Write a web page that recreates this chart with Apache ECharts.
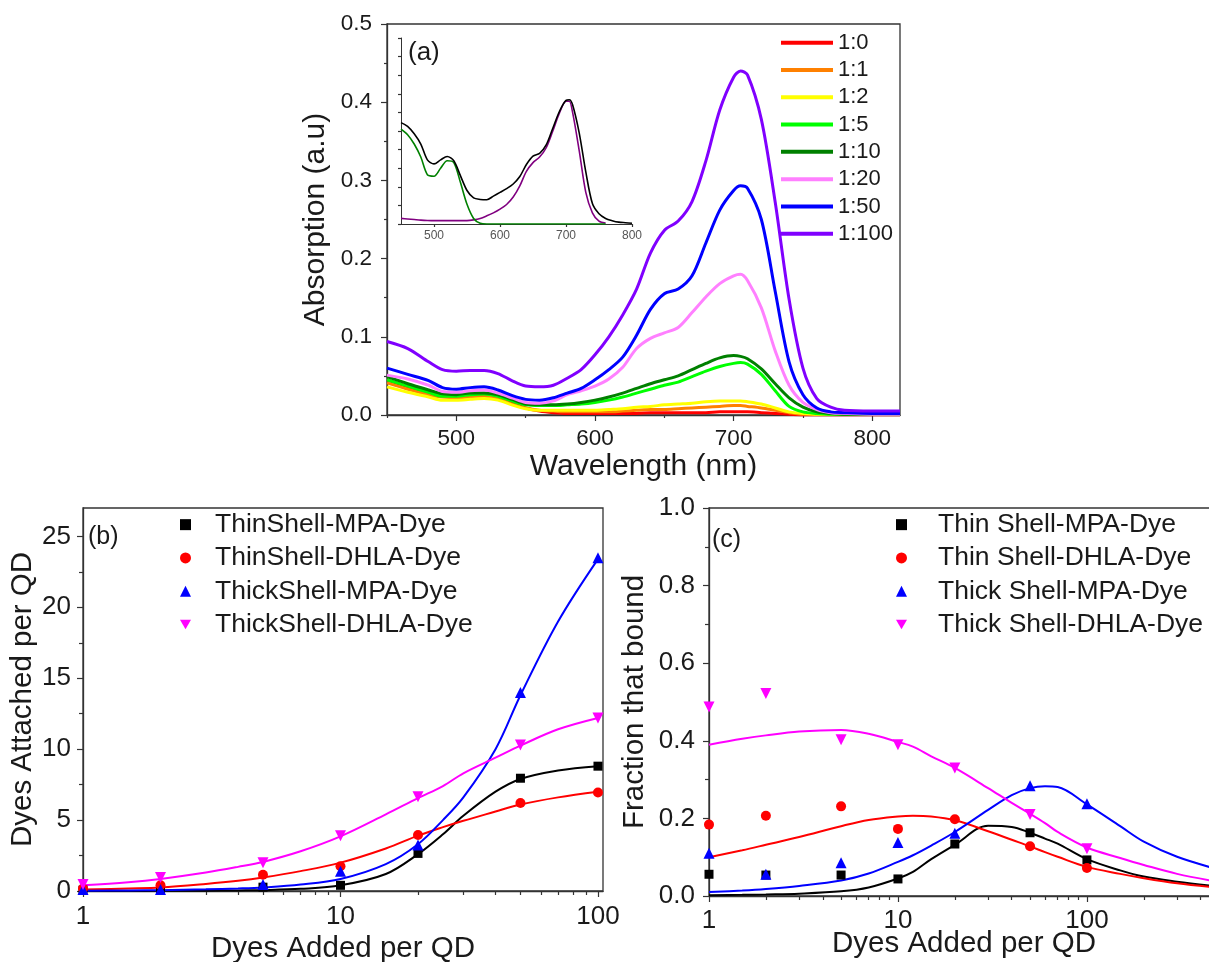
<!DOCTYPE html>
<html><head><meta charset="utf-8">
<script src="https://cdn.jsdelivr.net/npm/echarts@6/dist/echarts.min.js"></script>
<style>html,body{margin:0;padding:0;background:#fff}#c{width:1209px;height:962px}</style>
</head><body><div id="c"></div>
<script>
// ---------- Panel (a): absorption spectra ----------
const wl = [450,465,480,490,500,510,520,530,540,550,560,570,580,590,600,610,620,630,640,650,660,670,680,690,700,705,710,720,730,740,750,760,770,780,800,820];
const abs_1_0 = [0.045,0.036,0.028,0.025,0.024,0.025,0.026,0.022,0.015,0.009,0.005,0.003,0.002,0.002,0.002,0.002,0.002,0.002,0.003,0.003,0.003,0.003,0.003,0.004,0.004,0.004,0.004,0.003,0.002,0.001,0.000,0.000,0.000,0.000,0.000,0.000];
const abs_1_1 = [0.041,0.033,0.026,0.023,0.022,0.023,0.024,0.021,0.014,0.009,0.006,0.005,0.004,0.004,0.004,0.004,0.005,0.006,0.007,0.007,0.008,0.009,0.010,0.011,0.012,0.012,0.011,0.009,0.006,0.003,0.001,0.001,0.001,0.001,0.001,0.001];
const abs_1_2 = [0.036,0.029,0.023,0.019,0.019,0.020,0.021,0.019,0.013,0.008,0.006,0.006,0.006,0.006,0.006,0.007,0.008,0.010,0.011,0.013,0.014,0.015,0.017,0.018,0.018,0.018,0.017,0.014,0.009,0.004,0.002,0.001,0.001,0.001,0.001,0.001];
const abs_1_5 = [0.045,0.037,0.029,0.024,0.024,0.026,0.027,0.024,0.018,0.013,0.012,0.012,0.013,0.014,0.016,0.019,0.023,0.028,0.033,0.038,0.042,0.049,0.056,0.062,0.066,0.067,0.065,0.052,0.031,0.011,0.004,0.002,0.001,0.001,0.001,0.001];
const abs_1_10 = [0.049,0.040,0.032,0.027,0.026,0.028,0.028,0.026,0.020,0.014,0.013,0.013,0.014,0.016,0.019,0.023,0.028,0.034,0.040,0.045,0.050,0.058,0.066,0.073,0.076,0.075,0.072,0.059,0.040,0.022,0.010,0.004,0.002,0.001,0.001,0.001];
const abs_1_20 = [0.051,0.046,0.038,0.030,0.029,0.031,0.032,0.028,0.022,0.016,0.015,0.018,0.026,0.031,0.037,0.046,0.061,0.085,0.098,0.105,0.112,0.131,0.151,0.168,0.178,0.180,0.172,0.137,0.082,0.038,0.016,0.007,0.003,0.002,0.001,0.001];
const abs_1_50 = [0.060,0.052,0.044,0.035,0.033,0.035,0.036,0.032,0.025,0.020,0.019,0.022,0.028,0.034,0.045,0.058,0.074,0.102,0.135,0.155,0.161,0.178,0.220,0.262,0.287,0.293,0.290,0.250,0.158,0.068,0.026,0.009,0.004,0.003,0.002,0.002];
const abs_1_100 = [0.094,0.085,0.068,0.058,0.056,0.057,0.057,0.053,0.044,0.037,0.036,0.038,0.047,0.058,0.077,0.100,0.128,0.161,0.207,0.236,0.248,0.273,0.325,0.390,0.432,0.440,0.435,0.378,0.272,0.148,0.060,0.021,0.010,0.006,0.005,0.005];
const ratioNames = ['1:0','1:1','1:2','1:5','1:10','1:20','1:50','1:100'];
const ratioColors = ['#ff0000','#ff8000','#ffff00','#00ff00','#008000','#ff80ff','#0000ff','#8000ff'];
const ratioData = [abs_1_0,abs_1_1,abs_1_2,abs_1_5,abs_1_10,abs_1_20,abs_1_50,abs_1_100];
const aXLabels = [500,600,700,800];
const aXMinor = [450,550,650,750];
const aYLabels = [0,0.1,0.2,0.3,0.4,0.5];
const aYMinor = [0.05,0.15,0.25,0.35,0.45];

// inset (normalised)
const insWl = [450,460,470,480,490,500,510,520,530,540,550,560,570,580,590,600,610,620,630,640,650,660,670,680,690,700,705,710,720,730,740,750,760,770,780,790,800];
const insQDDye = [0.545,0.525,0.485,0.43,0.345,0.323,0.345,0.363,0.34,0.26,0.18,0.14,0.132,0.13,0.15,0.17,0.19,0.215,0.255,0.32,0.365,0.38,0.425,0.515,0.605,0.665,0.668,0.641,0.49,0.28,0.11,0.055,0.03,0.018,0.01,0.007,0.004];
const insQD = [0.51,0.48,0.43,0.36,0.265,0.257,0.30,0.34,0.33,0.224,0.106,0.03,0.004,0,0,0,0,0,0,0,0,0,0,0,0,0,0,0,0,0,0,0,0,null,null,null,null];
const insDye = [0.03,0.027,0.024,0.021,0.019,0.018,0.018,0.018,0.018,0.018,0.018,0.022,0.03,0.044,0.06,0.08,0.105,0.145,0.205,0.283,0.33,0.36,0.41,0.5,0.596,0.66,0.66,0.6,0.395,0.17,0.06,0.015,0.005,null,null,null,null];
const insXLabels = [500,600,700,800];
const insYTicks = [0,0.1,0.2,0.3,0.4,0.5,0.6,0.7,0.8,0.9,1.0];

// ---------- Panel (b): dyes attached per QD ----------
const added = [1,2,5,10,20,50,100];
const bThinMPA = [0.06,0.11,0.27,0.4,2.65,7.95,8.8];
const bThinDHLA = [0.18,0.4,1.15,1.75,3.95,6.2,6.95];
const bThickMPA = [0.11,0.11,0.45,1.4,3.25,14.0,23.5];
const bThickDHLA = [0.45,0.95,2.0,3.9,6.65,10.3,12.2];
const bFitX = [1,1.5,2,3,4,5,7,10,15,20,25,30,40,50,70,100];
const bFitThinMPA = [0.0,0.0,0.01,0.02,0.04,0.06,0.15,0.4,1.2,2.6,4.0,5.3,7.0,7.9,8.5,8.8];
const bFitThinDHLA = [0.1,0.18,0.25,0.5,0.72,0.95,1.4,2.0,3.0,3.9,4.5,4.95,5.6,6.1,6.6,7.0];
const bFitThickMPA = [0.02,0.04,0.06,0.12,0.18,0.25,0.45,0.85,1.9,3.3,5.0,6.6,10.0,13.8,19.0,23.4];
const bFitThickDHLA = [0.4,0.62,0.85,1.3,1.7,2.05,2.8,3.85,5.4,6.55,7.4,8.3,9.4,10.25,11.4,12.2];
const bNames = ['ThinShell-MPA-Dye','ThinShell-DHLA-Dye','ThickShell-MPA-Dye','ThickShell-DHLA-Dye'];
const bYLabels = [0,5,10,15,20,25];
const bYMinor = [2.5,7.5,12.5,17.5,22.5];
const logLabels = [1,10,100];
const bXMinor = [2,3,4,5,6,7,8,9,20,30,40,50,60,70,80,90];

// ---------- Panel (c): fraction that bound ----------
const cThinMPA = [0.056,0.054,0.054,0.044,0.134,0.163,0.093];
const cThinDHLA = [0.184,0.207,0.231,0.173,0.198,0.128,0.072];
const cThickMPA = [0.11,0.056,0.086,0.138,0.162,0.284,0.238];
const cThickDHLA = [0.487,0.522,0.403,0.39,0.33,0.21,0.122];
const cFitX = [1,1.5,2,3,5,7,10,12,15,20,30,40,50,60,70,100,150,200,300,500];
const cFitThinMPA = [0.002,0.003,0.004,0.006,0.012,0.022,0.045,0.062,0.095,0.132,0.181,0.178,0.163,0.148,0.135,0.095,0.066,0.05,0.037,0.024];
const cFitThinDHLA = [0.1,0.118,0.132,0.152,0.18,0.196,0.205,0.207,0.205,0.195,0.167,0.145,0.128,0.113,0.101,0.075,0.057,0.046,0.033,0.021];
const cFitThickMPA = [0.01,0.014,0.018,0.026,0.04,0.058,0.088,0.105,0.13,0.165,0.222,0.26,0.278,0.283,0.281,0.236,0.18,0.14,0.101,0.068];
const cFitThickDHLA = [0.39,0.405,0.414,0.424,0.428,0.418,0.397,0.385,0.36,0.33,0.278,0.24,0.212,0.188,0.165,0.125,0.098,0.08,0.057,0.036];
const cNames = ['Thin Shell-MPA-Dye','Thin Shell-DHLA-Dye','Thick Shell-MPA-Dye','Thick Shell-DHLA-Dye'];
const cYLabels = [0,0.2,0.4,0.6,0.8,1.0];
const cYMinor = [0.1,0.3,0.5,0.7,0.9];
const cXMinor = [2,3,4,5,6,7,8,9,20,30,40,50,60,70,80,90,200,300,400];

// ---------- styling ----------
const FONT = "'Liberation Sans', Arial, sans-serif";
const INK = '#1a1a1a';
const AXC = '#333';
const setColors = ['#000000','#ff0000','#0000ff','#ff00ff'];
const setSymbols = ['rect','circle','triangle','triangle'];
const setRot = [0,0,0,180];
const setSizes = [9,10,11,11];
const legendIcons = ['rect','circle','triangle','path://M0,0L2,0L1,1.732Z'];

function axis(o) {
  return {
    gridIndex: o.grid, type: o.type || 'value', logBase: 10,
    min: o.min, max: o.max, position: o.pos,
    splitLine: {show: false},
    axisLine: {show: o.line !== false, onZero: false, lineStyle: {color: AXC, width: o.lw || 1.3}},
    axisTick: {show: true, inside: false, length: o.tickLen || 6, lineStyle: {color: AXC, width: 1.2}, customValues: o.ticks},
    axisLabel: o.labels ? {show: true, customValues: o.labels, margin: o.margin, fontSize: o.fs, fontFamily: FONT, color: o.lc || INK, formatter: o.fmt} : {show: false},
    name: o.name || '', nameLocation: 'middle', nameGap: o.gap || 0, nameMoveOverlap: false,
    nameTextStyle: {fontSize: o.nfs || 29.5, fontFamily: FONT, color: INK}
  };
}
const f1 = v => Number(v).toFixed(1);
const fInt = v => String(Math.round(v));

const grids = [
  {left: 387, top: 24, width: 513, height: 391},
  {left: 401, top: 38, width: 231, height: 186},
  {left: 83, top: 508, width: 520, height: 383},
  {left: 709, top: 508, width: 510, height: 388}
].map((g, i) => Object.assign({show: i !== 1, borderColor: AXC, borderWidth: 1.3, backgroundColor: 'transparent', outerBoundsMode: 'none', containLabel: false}, g));

const xAxes = [
  axis({grid:0, min:450, max:820, pos:'bottom', labels:aXLabels, ticks:aXLabels, margin:12, fs:22.5, fmt:fInt, name:'Wavelength (nm)', gap:37, nfs:30}),
  axis({grid:0, min:450, max:820, pos:'bottom', line:false, ticks:aXMinor, tickLen:3}),
  axis({grid:1, min:450, max:800, pos:'bottom', lw:1, labels:insXLabels, ticks:insXLabels, tickLen:3, margin:6, fs:12, lc:'#555', fmt:fInt}),
  axis({grid:2, type:'log', min:1, max:104.6, pos:'bottom', labels:logLabels, ticks:logLabels, margin:13, fs:26, fmt:fInt, name:'Dyes Added per QD', gap:43}),
  axis({grid:2, type:'log', min:1, max:104.6, pos:'bottom', line:false, ticks:bXMinor, tickLen:4}),
  axis({grid:3, type:'log', min:1, max:500, pos:'bottom', labels:logLabels, ticks:logLabels, margin:12, fs:26, fmt:fInt, name:'Dyes Added per QD', gap:33}),
  axis({grid:3, type:'log', min:1, max:500, pos:'bottom', line:false, ticks:cXMinor, tickLen:4})
];
const yAxes = [
  axis({grid:0, min:0, max:0.5, pos:'left', labels:aYLabels, ticks:aYLabels, margin:15, fs:22.5, fmt:f1, name:'Absorption (a.u)', gap:56, nfs:30}),
  axis({grid:0, min:0, max:0.5, pos:'left', line:false, ticks:aYMinor, tickLen:3}),
  axis({grid:1, min:0, max:1, pos:'left', lw:1, ticks:insYTicks, tickLen:3}),
  axis({grid:2, min:0, max:27, pos:'left', labels:bYLabels, ticks:bYLabels, margin:12, fs:26, fmt:fInt, name:'Dyes Attached per QD', gap:45}),
  axis({grid:2, min:0, max:27, pos:'left', line:false, ticks:bYMinor, tickLen:4}),
  axis({grid:3, min:0, max:1, pos:'left', labels:cYLabels, ticks:cYLabels, margin:14, fs:26, fmt:f1, name:'Fraction that bound', gap:59}),
  axis({grid:3, min:0, max:1, pos:'left', line:false, ticks:cYMinor, tickLen:4})
];

const series = [];
// (a) spectra
ratioData.forEach((arr, k) => {
  series.push({
    name: ratioNames[k], type: 'line', xAxisIndex: 0, yAxisIndex: 0,
    data: wl.map((x, i) => [x, arr[i]]),
    symbol: 'none', showSymbol: false, smooth: 0.3,
    lineStyle: {width: 3, color: ratioColors[k]}, itemStyle: {color: ratioColors[k]},
    z: 2 + k
  });
});
// inset
[[insQDDye,'#000000','QD-Dye'],[insQD,'#008000','QD'],[insDye,'#800080','Dye']].forEach(([arr, col, nm], k) => {
  series.push({
    name: nm, type: 'line', xAxisIndex: 2, yAxisIndex: 2,
    data: insWl.map((x, i) => [x, arr[i]]),
    symbol: 'none', showSymbol: false, smooth: 0.3, connectNulls: false,
    lineStyle: {width: 1.6, color: col}, itemStyle: {color: col}, z: 12 - k
  });
});
// (b)
const bPts = [bThinMPA, bThinDHLA, bThickMPA, bThickDHLA];
const bFits = [bFitThinMPA, bFitThinDHLA, bFitThickMPA, bFitThickDHLA];
bFits.forEach((arr, k) => {
  series.push({
    name: 'b-fit-' + k, type: 'line', xAxisIndex: 3, yAxisIndex: 3,
    data: bFitX.map((x, i) => [x, arr[i]]),
    symbol: 'none', showSymbol: false, smooth: 0.35,
    lineStyle: {width: 2, color: setColors[k]}, itemStyle: {color: setColors[k]}, z: 2
  });
});
bPts.forEach((arr, k) => {
  series.push({
    name: bNames[k], type: 'scatter', xAxisIndex: 3, yAxisIndex: 3,
    data: added.map((x, i) => [x, arr[i]]),
    symbol: setSymbols[k], symbolRotate: setRot[k], symbolSize: setSizes[k],
    itemStyle: {color: setColors[k], opacity: 1}, z: 5
  });
});
// (c)
const cPts = [cThinMPA, cThinDHLA, cThickMPA, cThickDHLA];
const cFits = [cFitThinMPA, cFitThinDHLA, cFitThickMPA, cFitThickDHLA];
cFits.forEach((arr, k) => {
  series.push({
    name: 'c-fit-' + k, type: 'line', xAxisIndex: 5, yAxisIndex: 5,
    data: cFitX.map((x, i) => [x, arr[i]]),
    symbol: 'none', showSymbol: false, smooth: 0.35,
    lineStyle: {width: 2, color: setColors[k]}, itemStyle: {color: setColors[k]}, z: 2
  });
});
cPts.forEach((arr, k) => {
  series.push({
    name: cNames[k], type: 'scatter', xAxisIndex: 5, yAxisIndex: 5,
    data: added.map((x, i) => [x, arr[i]]),
    symbol: setSymbols[k], symbolRotate: setRot[k], symbolSize: setSizes[k],
    itemStyle: {color: setColors[k], opacity: 1}, z: 5
  });
});

const legendText = (fs, lh, padL) => ({fontSize: fs, lineHeight: lh, fontFamily: FONT, color: INK, padding: [0, 0, 0, padL || 0]});
const legendItems = names => names.map((n, k) => ({name: n, icon: legendIcons[k], itemStyle: {color: setColors[k]}}));
const legends = [
  {data: ratioNames, orient: 'vertical', left: 781, top: 29, padding: 0, itemGap: 0,
   icon: 'rect', itemWidth: 52, itemHeight: 4, selectedMode: false, textStyle: legendText(22, 27.3, 0)},
  {data: legendItems(bNames), orient: 'vertical', left: 180, top: 508, padding: 0, itemGap: 0,
   itemWidth: 11, itemHeight: 11, selectedMode: false, textStyle: legendText(26.5, 33.3, 19)},
  {data: legendItems(cNames), orient: 'vertical', left: 896, top: 508, padding: 0, itemGap: 0,
   itemWidth: 11, itemHeight: 11, selectedMode: false, textStyle: legendText(26.5, 33.3, 26)}
];

const panelText = (t, l, tp, fs) => ({type: 'text', left: l, top: tp, z: 100,
  style: {text: t, fontSize: fs, fontFamily: FONT, fill: INK}});

const chart = echarts.init(document.getElementById('c'), null, {renderer: 'canvas'});
chart.setOption({
  animation: false,
  backgroundColor: '#ffffff',
  grid: grids,
  xAxis: xAxes,
  yAxis: yAxes,
  legend: legends,
  series: series,
  graphic: [panelText('(a)', 408, 40, 26), panelText('(b)', 88, 525, 25), panelText('(c)', 712, 528, 25)]
});
</script>
</body></html>
